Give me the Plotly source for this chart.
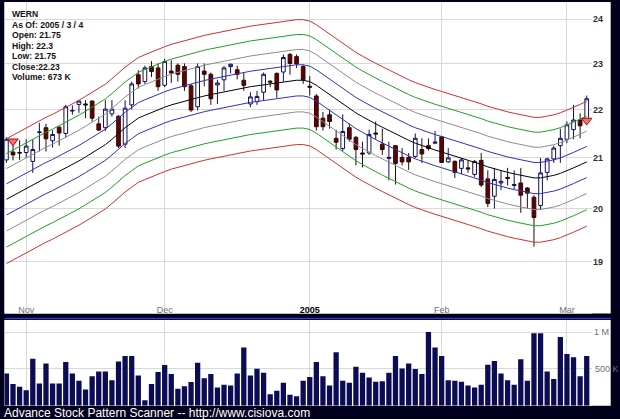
import math
import pandas as pd
import plotly.graph_objects as go

# ---------------- data ----------------
holidays = ["2004-11-25", "2004-12-24", "2005-01-17", "2005-02-21"]
dates = [d.strftime("%Y-%m-%d") for d in pd.bdate_range("2004-10-27", "2005-03-04")
         if d.strftime("%Y-%m-%d") not in holidays]

opens = [20.96, 21.12, 21.11, 21.11, 20.93, 21.52, 21.62, 21.35, 21.63, 21.50,
         21.97, 22.11, 22.12, 22.18, 21.70, 21.62, 21.91, 21.86, 21.28, 22.10,
         22.75, 22.60, 22.93, 22.90, 22.52, 22.83, 22.96, 22.93, 22.51, 22.06,
         22.83, 22.76, 22.53, 22.64, 22.93, 22.86, 22.63, 22.12, 22.17, 22.37,
         22.61, 22.78, 22.81, 23.20, 23.15, 22.93, 22.50, 22.29, 21.82, 21.89,
         21.40, 21.19, 21.62, 21.42, 21.10, 21.10, 21.51, 21.28, 20.99, 21.25,
         21.01, 21.01, 21.03, 21.17, 21.25, 21.30, 21.43, 20.92, 20.93, 20.79,
         20.80, 20.67, 20.95, 20.58, 20.24, 20.50, 20.61, 20.45, 20.50, 20.40,
         20.22, 20.06, 20.71, 20.98, 21.25, 21.38, 21.58, 21.78, 21.75]
highs = [21.42, 21.36, 21.36, 21.38, 21.38, 21.72, 21.70, 21.57, 21.65, 22.10,
         22.09, 22.20, 22.20, 22.20, 21.85, 22.20, 22.20, 21.88, 22.20, 22.60,
         22.85, 22.95, 23.05, 23.00, 23.10, 23.07, 23.00, 23.00, 22.55, 23.00,
         23.00, 22.80, 22.64, 22.94, 23.00, 22.95, 22.80, 22.37, 22.40, 22.80,
         22.63, 22.80, 23.20, 23.23, 23.20, 22.97, 22.72, 22.33, 21.95, 22.00,
         21.58, 21.90, 21.70, 21.45, 21.33, 21.58, 21.75, 21.60, 21.33, 21.25,
         21.20, 21.10, 21.50, 21.40, 21.40, 21.55, 21.45, 21.20, 20.95, 21.00,
         20.95, 20.96, 21.10, 20.75, 20.80, 20.75, 20.80, 20.75, 20.80, 20.42,
         20.26, 21.00, 21.00, 21.25, 21.60, 21.75, 22.10, 21.92, 22.30]
lows = [20.90, 20.95, 20.96, 21.00, 20.70, 21.13, 21.13, 21.21, 21.25, 21.41,
        21.89, 21.93, 21.82, 21.75, 21.55, 21.55, 21.85, 21.20, 21.20, 22.00,
        22.45, 22.55, 22.70, 22.40, 22.48, 22.57, 22.60, 22.40, 21.95, 21.98,
        22.50, 22.10, 22.12, 22.40, 22.78, 22.65, 22.40, 22.05, 22.10, 22.20,
        22.48, 22.25, 22.60, 22.75, 22.90, 22.55, 22.30, 21.56, 21.56, 21.60,
        21.17, 21.14, 21.33, 20.85, 20.81, 21.06, 21.38, 21.06, 20.55, 20.47,
        20.85, 20.76, 21.00, 20.90, 21.15, 21.28, 20.90, 20.90, 20.60, 20.68,
        20.70, 20.62, 20.42, 20.03, 20.00, 20.36, 20.45, 20.38, 19.92, 20.00,
        19.28, 19.98, 20.55, 20.90, 20.90, 21.30, 21.38, 21.40, 21.75]
closes = [21.38, 21.06, 21.10, 21.24, 21.17, 21.53, 21.39, 21.48, 21.51, 22.06,
          21.98, 22.18, 22.10, 21.82, 21.57, 22.01, 22.01, 21.24, 22.03, 22.55,
          22.55, 22.90, 22.82, 22.49, 23.04, 22.79, 22.76, 22.49, 21.99, 22.93,
          22.76, 22.23, 22.57, 22.90, 22.98, 22.76, 22.52, 22.27, 22.28, 22.76,
          22.59, 22.42, 23.13, 23.00, 22.99, 22.64, 22.48, 21.64, 21.64, 21.75,
          21.32, 21.54, 21.38, 21.17, 21.08, 21.48, 21.49, 21.17, 21.01, 20.89,
          20.92, 20.92, 21.40, 21.08, 21.19, 21.32, 20.91, 21.00, 20.71, 20.96,
          20.78, 20.93, 20.46, 20.10, 20.57, 20.53, 20.59, 20.47, 20.26, 20.30,
          19.83, 20.70, 20.98, 21.20, 21.40, 21.68, 21.78, 21.66, 22.23]
volumes = [438, 293, 256, 211, 637, 302, 574, 302, 302, 592,
           438, 338, 220, 401, 465, 465, 347, 601, 673, 673,
           411, 75, 293, 456, 551, 429, 229, 265, 320, 583,
           374, 429, 247, 283, 274, 438, 791, 411, 501, 447,
           157, 202, 311, 147, 129, 338, 390, 592, 401, 275,
           724, 338, 311, 528, 447, 384, 324, 333, 447, 673,
           506, 574, 497, 429, 1000, 791, 673, 347, 338, 324,
           275, 247, 283, 555, 605, 438, 347, 283, 629, 338,
           982, 982, 465, 361, 932, 700, 656, 401, 673]  # thousands

# centre line of the envelope
center = [20.18, 20.25, 20.32, 20.40, 20.46, 20.53, 20.60, 20.66, 20.73, 20.80,
          20.86, 20.94, 21.02, 21.10, 21.18, 21.27, 21.38, 21.50, 21.62, 21.72,
          21.82, 21.88, 21.94, 22.00, 22.05, 22.10, 22.14, 22.18, 22.21, 22.25,
          22.29, 22.32, 22.35, 22.38, 22.41, 22.44, 22.47, 22.49, 22.51, 22.53,
          22.56, 22.58, 22.60, 22.62, 22.63, 22.63, 22.60, 22.52, 22.42, 22.32,
          22.22, 22.12, 22.02, 21.93, 21.85, 21.77, 21.70, 21.63, 21.56, 21.49,
          21.42, 21.36, 21.30, 21.25, 21.20, 21.16, 21.12, 21.08, 21.03, 20.99,
          20.95, 20.91, 20.87, 20.82, 20.78, 20.74, 20.71, 20.68, 20.65, 20.62,
          20.60, 20.60, 20.62, 20.65, 20.69, 20.74, 20.80, 20.86, 20.92]
band_pct = [-6.0, -4.5, -3.0, -1.5, 1.5, 3.0, 4.5, 6.0]
band_colors = ["#d03030", "#20a020", "#8c8c8c", "#3030c0",
               "#3030c0", "#8c8c8c", "#20a020", "#d03030"]

signal_idx = [1, 88]
signal_price = [21.34, 21.77]

tick_dates = ["2004-11-01", "2004-12-01", "2005-01-03", "2005-02-01", "2005-03-01"]
tick_text = ["Nov", "Dec", "<b><span style='color:#000'>2005</span></b>", "Feb", "Mar"]
price_ticks = [19, 20, 21, 22, 23, 24]
vol_ticks = [500000, 1000000]
vol_tick_text = ["500 K", "1 M"]

info_lines = ["WERN", "As Of: 2005 / 3 / 4", "Open: 21.75", "High: 22.3",
              "Low: 21.75", "Close:22.23", "Volume: 673 K"]
footer = "Advance Stock Pattern Scanner -- http://www.cisiova.com"

# ---------------- layout geometry (pixels) ----------------
W, H = 620, 419
px = lambda v: v / W
py = lambda v: 1 - v / H
XL, XR = 4.5, 592.0
MAIN_T, MAIN_B = 2.0, 313.5
VOL_T, VOL_B = 320.0, 405.7
PANEL_R = 610.7

fig = go.Figure()

for pct, col in zip(band_pct, band_colors):
    fig.add_trace(go.Scatter(x=dates, y=[c * (1 + pct / 100) for c in center],
                             mode="lines", line=dict(color=col, width=1),
                             hoverinfo="skip", showlegend=False, xaxis="x", yaxis="y"))
fig.add_trace(go.Scatter(x=dates, y=center, mode="lines",
                         line=dict(color="#000000", width=1),
                         hoverinfo="skip", showlegend=False, xaxis="x", yaxis="y"))

fig.add_trace(go.Candlestick(
    x=dates, open=opens, high=highs, low=lows, close=closes,
    increasing=dict(fillcolor="#ffffff", line=dict(color="#10105a", width=1)),
    decreasing=dict(fillcolor="#660000", line=dict(color="#2a0a0a", width=1)),
    whiskerwidth=0, showlegend=False, xaxis="x", yaxis="y"))

fig.add_trace(go.Scatter(
    x=[dates[i] for i in signal_idx], y=signal_price, mode="markers",
    marker=dict(symbol="triangle-down", size=9, color="#ff6b6b",
                line=dict(color="#a01010", width=1)),
    showlegend=False, xaxis="x", yaxis="y"))

fig.add_trace(go.Bar(x=dates, y=[v * 1000 for v in volumes],
                     marker=dict(color="#0c0c55", line=dict(width=0)), width=0.8,
                     showlegend=False, xaxis="x2", yaxis="y2"))

grid = "#d9d9d9"
xr = [-0.29, 88.8]
fig.update_layout(
    width=W, height=H, margin=dict(l=0, r=0, t=0, b=0),
    paper_bgcolor="#00001c", plot_bgcolor="#ffffff",
    font=dict(family="Liberation Sans, Arial, sans-serif"),
    showlegend=False, boxgap=0.2,
    xaxis=dict(domain=[px(XL), px(XR)], type="category", range=xr, anchor="y",
               tickvals=tick_dates, ticktext=tick_text, ticklabelposition="inside",
               ticklabelstandoff=-4,
               tickfont=dict(size=9, color="#707070"), ticks="",
               showgrid=True, gridcolor=grid, gridwidth=1, zeroline=False,
               showline=False, rangeslider=dict(visible=False), fixedrange=True),
    yaxis=dict(domain=[py(MAIN_B), py(MAIN_T)], type="log",
               range=[math.log10(18.08), math.log10(24.40)], side="right",
               anchor="x", tickvals=price_ticks,
               ticktext=["<b>%d</b>" % t for t in price_ticks],
               tickfont=dict(size=9, color="#303030"), ticks="",
               showgrid=True, gridcolor=grid, zeroline=False, showline=False),
    xaxis2=dict(domain=[px(XL), px(XR)], type="category", range=xr, anchor="y2",
                tickvals=tick_dates, showticklabels=False, ticks="",
                showgrid=True, gridcolor=grid, zeroline=False, showline=False),
    yaxis2=dict(domain=[py(VOL_B), py(VOL_T)], range=[0, 1.163e6], anchor="x2",
                tickvals=vol_ticks, showticklabels=False, ticks="",
                showgrid=True, gridcolor=grid, zeroline=False, showline=False),
)

shapes = [
    dict(type="rect", xref="paper", yref="paper", x0=px(XL), x1=px(PANEL_R),
         y0=py(MAIN_B), y1=py(MAIN_T), fillcolor="#ffffff", line=dict(width=0), layer="below"),
    dict(type="rect", xref="paper", yref="paper", x0=px(XL), x1=px(PANEL_R),
         y0=py(VOL_B), y1=py(VOL_T), fillcolor="#ffffff", line=dict(width=0), layer="below"),
    dict(type="line", xref="paper", yref="paper", x0=px(XL), x1=px(PANEL_R),
         y0=py(318.5), y1=py(318.5), line=dict(color="#3a3ac8", width=1.5)),
]
fig.update_layout(shapes=shapes)

ann = []
for k, s in enumerate(info_lines):
    ann.append(dict(xref="paper", yref="paper", x=px(9.5), y=py(14 + 10.55 * k),
                    xanchor="left", yanchor="middle", showarrow=False,
                    text="<b>%s</b>" % s, font=dict(size=8.6, color="#111111")))
ann.append(dict(xref="paper", yref="paper", x=px(2), y=py(412.5), xanchor="left",
                yanchor="middle", showarrow=False, text=footer,
                font=dict(size=12, color="#ffffff")))
vol_span = VOL_B - VOL_T
for v, t in zip(vol_ticks, vol_tick_text):
    ypix = VOL_B - v / 1.163e6 * vol_span
    if v >= 1000000:
        ann.append(dict(xref="paper", yref="paper", x=px(611), y=py(ypix),
                        xanchor="right", yanchor="middle", showarrow=False, text=t,
                        font=dict(size=9, color="#707070")))
    else:
        ann.append(dict(xref="paper", yref="paper", x=px(592.5), y=py(ypix),
                        xanchor="left", yanchor="middle", showarrow=False, text=t,
                        font=dict(size=9, color="#707070")))
fig.update_layout(annotations=ann)

fig.write_html("out.html", config={"displayModeBar": False},
               post_script="document.body.style.margin='0';document.body.style.overflow='hidden';")
